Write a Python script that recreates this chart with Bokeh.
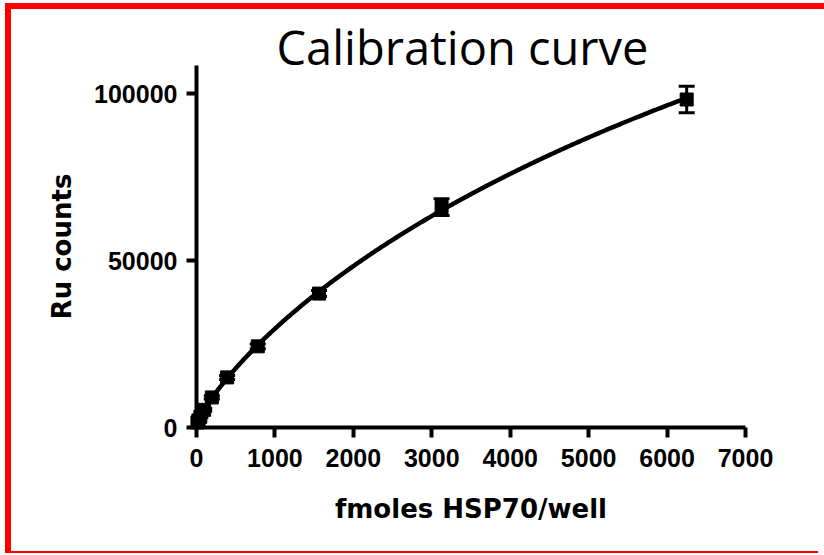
import numpy as np
from bokeh.plotting import figure
from bokeh.models import (ColumnDataSource, Whisker, TeeHead, FixedTicker,
                          Range1d, NumeralTickFormatter)
from bokeh.embed import file_html
from bokeh.resources import INLINE

# ---- data ----
fmoles = [12.2, 24.4, 48.8, 97.7, 195.3, 390.6, 781.25, 1562.5, 3125, 6250]
ru_counts = [1500, 2100, 3200, 5300, 9000, 15000, 24300, 40100, 66000, 98200]
ru_err = [300, 300, 300, 400, 500, 600, 700, 900, 2500, 4000]
x_ticks = [0, 1000, 2000, 3000, 4000, 5000, 6000, 7000]
y_ticks = [0, 50000, 100000]
title_text = "Calibration curve"
x_label = "fmoles HSP70/well"
y_label = "Ru counts"

W, H = 813, 542
PX_PER_Y = 334 / 100000.0
top_b, bot_b, left_b, right_b = 56, 124, 185, 79
y_end = (H - top_b - bot_b) / PX_PER_Y

p = figure(width=W, height=H, output_backend="svg", toolbar_location=None,
           x_range=Range1d(0, 7000), y_range=Range1d(0, y_end),
           min_border_left=left_b, min_border_right=right_b,
           min_border_top=top_b, min_border_bottom=bot_b)
# red frame of the original picture, drawn as shadows (no effect on layout)
p.styles = {"margin-left": "11px", "margin-top": "9px",
            "box-shadow": "-6px -6px 0 0 red, -6px 2px 0 0 red, 0 -6px 0 0 red"}
p.outline_line_color = None
p.grid.visible = False
p.background_fill_color = "white"
p.border_fill_color = "white"

p.title.text = title_text
p.title.align = "left"
p.title.offset = 80
p.title.text_font = "Open Sans"
p.title.text_font_style = "normal"
p.title.text_font_size = "47px"
p.title.text_color = "black"
p.title.standoff = -26

for ax, ticks in ((p.xaxis[0], x_ticks), (p.yaxis[0], y_ticks)):
    ax.ticker = FixedTicker(ticks=ticks)
    ax.formatter = NumeralTickFormatter(format="0")
    ax.axis_line_width = 4
    ax.axis_line_color = "black"
    ax.major_tick_line_width = 4
    ax.major_tick_in = 0
    ax.major_tick_out = 10
    ax.minor_tick_line_color = None
    ax.major_label_text_font = "Liberation Sans"
    ax.major_label_text_font_style = "bold"
    ax.major_label_text_font_size = "25px"
    ax.major_label_text_color = "black"
    ax.axis_label_text_font = "DejaVu Sans"
    ax.axis_label_text_font_style = "bold"
    ax.axis_label_text_font_size = "26px"
    ax.axis_label_text_color = "black"

p.xaxis.axis_label = x_label
p.yaxis.axis_label = y_label
p.xaxis.major_label_standoff = 11
p.yaxis.major_label_standoff = 9
p.xaxis.axis_label_standoff = 24
p.yaxis.axis_label_standoff = 14

# fitted 4-parameter logistic curve (grid search + linear least squares)
xa, ya = np.array(fmoles), np.array(ru_counts, dtype=float)
w = 1.0 / ya
best = None
for b in np.linspace(0.3, 2.0, 86):
    for c in np.exp(np.linspace(np.log(300), np.log(1e6), 240)):
        g = 1.0 / (1.0 + (xa / c) ** b)
        A = np.column_stack([g, 1.0 - g])
        sol, *_ = np.linalg.lstsq(A * w[:, None], ya * w, rcond=None)
        r = float(np.sum(((A @ sol - ya) * w) ** 2))
        if best is None or r < best[0]:
            best = (r, b, c, sol)
_, b, c, (bottom, top) = best
xs = np.linspace(0, max(fmoles), 400)
gs = 1.0 / (1.0 + (xs / c) ** b)
fit = ColumnDataSource(dict(x=xs, y=bottom * gs + top * (1.0 - gs)))
p.line("x", "y", source=fit, line_width=4.5, color="black", level="overlay")

src = ColumnDataSource(dict(
    x=fmoles, y=ru_counts,
    upper=[v + e for v, e in zip(ru_counts, ru_err)],
    lower=[v - e for v, e in zip(ru_counts, ru_err)]))
wh = Whisker(source=src, base="x", upper="upper", lower="lower",
             line_width=3, line_color="black", level="overlay",
             upper_head=TeeHead(size=16, line_width=3, line_color="black"),
             lower_head=TeeHead(size=16, line_width=3, line_color="black"))
p.add_layout(wh)
p.scatter("x", "y", source=src, marker="square", size=13, color="black",
          level="overlay")

open("out.html", "w").write(file_html(p, INLINE))
